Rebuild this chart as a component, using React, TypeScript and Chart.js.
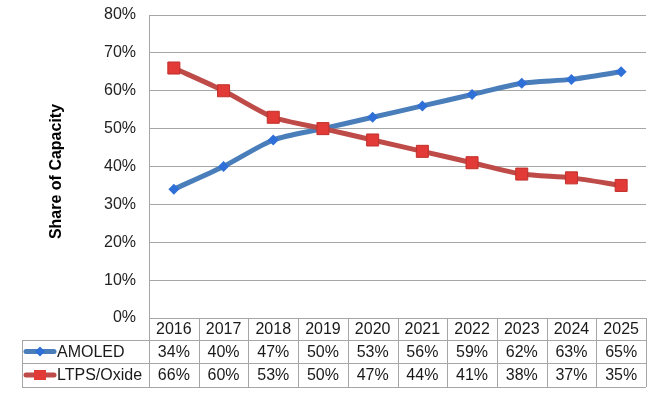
import React, { useEffect, useRef } from 'react';
import { Chart, registerables } from 'chart.js';

Chart.register(...registerables);

const years = ['2016', '2017', '2018', '2019', '2020', '2021', '2022', '2023', '2024', '2025'];
const amoled = [34, 40, 47, 50, 53, 56, 59, 62, 63, 65];
const ltps = [66, 60, 53, 50, 47, 44, 41, 38, 37, 35];
const seriesNames = ['AMOLED', 'LTPS/Oxide'];
const yAxisTitle = 'Share of Capacity';
const yMin = 0;
const yMax = 80;
const yStep = 10;

const BLUE_LINE = '#4a7ebb';
const BLUE_MARK = '#2f6fd8';
const RED_LINE = '#be4b48';
const RED_MARK = '#e23a36';
const GRID = '#a6a6a6';
const FONT = 'Arial, "Liberation Sans", sans-serif';

const tablePlugin = {
  id: 'dataTable',
  afterDraw(chart: any) {
    const ctx = chart.ctx;
    const { left, right, bottom, top } = chart.chartArea;
    const colW = (right - left) / years.length;
    const tableLeft = 22;
    const r0 = bottom;
    const r1 = bottom + 22;
    const r2 = bottom + 45;
    const r3 = bottom + 69;
    ctx.save();
    ctx.strokeStyle = GRID;
    ctx.lineWidth = 1;
    ctx.beginPath();
    [r1, r2, r3].forEach((y) => {
      ctx.moveTo(tableLeft, Math.round(y) + 0.5);
      ctx.lineTo(right, Math.round(y) + 0.5);
    });
    ctx.moveTo(tableLeft + 0.5, r1);
    ctx.lineTo(tableLeft + 0.5, r3);
    for (let i = 0; i <= years.length; i++) {
      const x = Math.round(left + i * colW) + 0.5;
      ctx.moveTo(x, r0);
      ctx.lineTo(x, r3);
    }
    ctx.stroke();

    ctx.fillStyle = '#1a1a1a';
    ctx.font = `16px ${FONT}`;
    ctx.textAlign = 'center';
    ctx.textBaseline = 'middle';
    years.forEach((yr, i) => {
      const cx = left + (i + 0.5) * colW;
      ctx.fillText(yr, cx, (r0 + r1) / 2 + 1);
      ctx.fillText(amoled[i] + '%', cx, (r1 + r2) / 2 + 1);
      ctx.fillText(ltps[i] + '%', cx, (r2 + r3) / 2 + 1);
    });

    // legend keys
    const drawKey = (y: number, lineColor: string, markColor: string, style: string) => {
      ctx.strokeStyle = lineColor;
      ctx.lineWidth = 5;
      ctx.lineCap = 'round';
      ctx.beginPath();
      ctx.moveTo(26, y);
      ctx.lineTo(54, y);
      ctx.stroke();
      ctx.fillStyle = markColor;
      ctx.beginPath();
      if (style === 'diamond') {
        ctx.moveTo(40, y - 5);
        ctx.lineTo(45, y);
        ctx.lineTo(40, y + 5);
        ctx.lineTo(35, y);
        ctx.closePath();
      } else {
        ctx.rect(34, y - 5, 12, 10);
      }
      ctx.fill();
    };
    drawKey((r1 + r2) / 2, BLUE_LINE, BLUE_MARK, 'diamond');
    drawKey((r2 + r3) / 2, RED_LINE, RED_MARK, 'rect');

    ctx.fillStyle = '#1a1a1a';
    ctx.textAlign = 'left';
    ctx.font = `16px ${FONT}`;
    ctx.fillText(seriesNames[0], 57, (r1 + r2) / 2 + 1);
    ctx.fillText(seriesNames[1], 57, (r2 + r3) / 2 + 1);

    // y axis title
    ctx.save();
    ctx.translate(57, (top + bottom) / 2 + 5);
    ctx.rotate(-Math.PI / 2);
    ctx.font = `bold 16px ${FONT}`;
    ctx.textAlign = 'center';
    ctx.textBaseline = 'middle';
    ctx.fillStyle = '#000';
    ctx.fillText(yAxisTitle, 0, 0);
    ctx.restore();

    ctx.restore();
  },
};

export default function App() {
  const ref = useRef<HTMLCanvasElement>(null);
  useEffect(() => {
    if (!ref.current) return;
    const chart = new Chart(ref.current, {
      type: 'line',
      data: {
        labels: years,
        datasets: [
          {
            label: seriesNames[1],
            data: ltps,
            borderColor: RED_LINE,
            backgroundColor: RED_MARK,
            borderWidth: 5,
            pointStyle: 'rect',
            pointRadius: 8.5,
            pointBorderColor: '#c0302c',
            pointBorderWidth: 1,
            pointBackgroundColor: RED_MARK,
            tension: 0.25,
            order: 0,
          },
          {
            label: seriesNames[0],
            data: amoled,
            borderColor: BLUE_LINE,
            backgroundColor: BLUE_MARK,
            borderWidth: 5,
            pointStyle: 'rectRot',
            pointRadius: 5.5,
            pointBorderWidth: 0,
            pointBackgroundColor: BLUE_MARK,
            tension: 0.25,
            order: 1,
          },
        ],
      },
      options: {
        responsive: true,
        maintainAspectRatio: false,
        animation: false,
        layout: { padding: { top: 15, right: 14, bottom: 75, left: 0 } },
        plugins: { legend: { display: false }, tooltip: { enabled: false } },
        scales: {
          x: {
            type: 'category',
            offset: true,
            display: false,
          },
          y: {
            min: yMin,
            max: yMax,
            afterFit: (s: any) => {
              s.width = 149;
              s.paddingTop = 0;
              s.paddingBottom = 0;
            },
            ticks: {
              stepSize: yStep,
              callback: (v: any) => v + '%',
              font: { family: FONT, size: 16 },
              color: '#222',
              padding: 13,
            },
            grid: { color: GRID, lineWidth: 1, drawTicks: false },
            border: { color: GRID, width: 1 },
          },
        },
      },
      plugins: [tablePlugin],
    });
    return () => chart.destroy();
  }, []);
  return (
    <div style={{ position: 'absolute', left: 0, top: 0, width: 660, height: 393, background: '#fff' }}>
      <canvas ref={ref} />
    </div>
  );
}
